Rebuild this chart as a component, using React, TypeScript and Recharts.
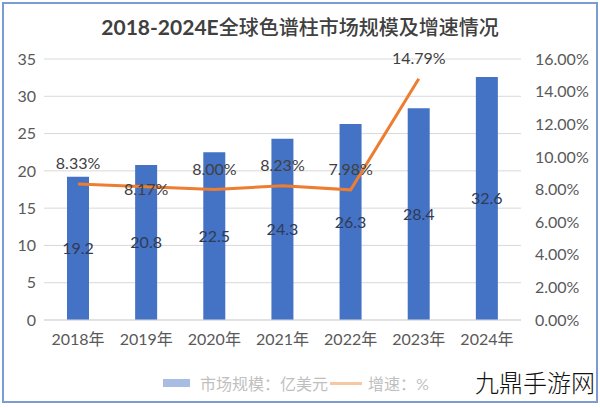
import React from 'react';
import { ComposedChart, Bar, Line, XAxis, YAxis, CartesianGrid, LabelList } from 'recharts';

const years = ['2018年', '2019年', '2020年', '2021年', '2022年', '2023年', '2024年'];
const marketSize = [19.2, 20.8, 22.5, 24.3, 26.3, 28.4, 32.6];
const growthRate: (number | null)[] = [8.33, 8.17, 8.0, 8.23, 7.98, 14.79, null];
const leftTicks = [0, 5, 10, 15, 20, 25, 30, 35];
const rightTicks = [0, 2, 4, 6, 8, 10, 12, 14, 16];

const FONT = "Lato, 'Noto Sans CJK SC', sans-serif";

const data = years.map((year, i) => ({
  year,
  market: marketSize[i],
  growth: growthRate[i],
}));

const GrowthLabel = (props: any) => {
  const { x, y, value, index } = props;
  if (value === null || value === undefined) return null;
  // the 2019 label sits on the line in the original, the rest float above it
  const dy = index === 1 ? 8 : -15;
  return (
    <text x={x} y={y + dy} textAnchor="middle" fill="#404040" fontSize={16} fontFamily={FONT}>
      {`${Number(value).toFixed(2)}%`}
    </text>
  );
};

export default function App() {
  return (
    <div style={{ position: 'absolute', left: 0, top: 0, width: 600, height: 408, background: '#fff', fontFamily: FONT }}>
      <div
        style={{
          position: 'absolute', left: 2, top: 2, width: 592, height: 397,
          border: '2px solid #7C9BD2', boxSizing: 'content-box',
        }}
      />
      <div
        style={{
          position: 'absolute', left: 0, top: 12, width: 600, textAlign: 'center',
          fontSize: 21, color: '#404040', fontFamily: FONT, whiteSpace: 'nowrap',
        }}
      >
        <span style={{ fontWeight: 700 }}>2018-2024E</span>
        <span style={{ fontWeight: 500, fontSize: 20 }}>全球色谱柱市场规模及增速情况</span>
      </div>

      <ComposedChart
        width={600}
        height={408}
        data={data}
        margin={{ top: 59, right: 0, bottom: 58, left: 0 }}
        style={{ position: 'absolute', left: 0, top: 0 }}
      >
        <CartesianGrid yAxisId="left" vertical={false} stroke="#D9D9D9" />
        <XAxis
          dataKey="year"
          axisLine={{ stroke: '#D9D9D9' }}
          tickLine={false}
          height={30}
          tick={{ fill: '#595959', fontSize: 16, fontFamily: FONT }}
          tickMargin={8}
        />
        <YAxis
          yAxisId="left"
          domain={[0, 35]}
          ticks={leftTicks}
          width={44}
          axisLine={false}
          tickLine={false}
          tick={{ fill: '#595959', fontSize: 16, fontFamily: FONT }}
        />
        <YAxis
          yAxisId="right"
          orientation="right"
          domain={[0, 16]}
          ticks={rightTicks}
          width={79}
          axisLine={false}
          tickLine={false}
          tickMargin={8}
          tickFormatter={(v) => `${Number(v).toFixed(2)}%`}
          tick={{ fill: '#595959', fontSize: 16, fontFamily: FONT, textAnchor: 'start' }}
        />
        <Bar yAxisId="left" dataKey="market" fill="#4472C4" barSize={22} isAnimationActive={false}>
          <LabelList dataKey="market" position="center" fill="#2F3B57" fontSize={16} fontFamily={FONT} />
        </Bar>
        <Line
          yAxisId="right"
          dataKey="growth"
          stroke="#ED7D31"
          strokeWidth={3}
          dot={false}
          type="linear"
          isAnimationActive={false}
        >
          <LabelList dataKey="growth" content={<GrowthLabel />} />
        </Line>
      </ComposedChart>

      <div
        style={{
          position: 'absolute', left: 163, top: 371, display: 'flex', alignItems: 'center',
          fontSize: 16, color: '#BFBFBF', fontFamily: FONT, whiteSpace: 'nowrap',
        }}
      >
        <span style={{ display: 'inline-block', width: 27, height: 8, background: '#A9BDE4', marginRight: 10 }} />
        <span>市场规模：亿美元</span>
        <span style={{ display: 'inline-block', width: 32, height: 3, background: '#F5C7A2', margin: '0 6px 0 2px' }} />
        <span>增速：%</span>
      </div>

      <div
        style={{
          position: 'absolute', left: 474, top: 364, fontSize: 24, color: '#111',
          fontFamily: "'Noto Sans CJK SC', sans-serif", fontWeight: 300, background: '#fff',
          lineHeight: '36px', padding: '0 1px', whiteSpace: 'nowrap',
        }}
      >
        九鼎手游网
      </div>
    </div>
  );
}
